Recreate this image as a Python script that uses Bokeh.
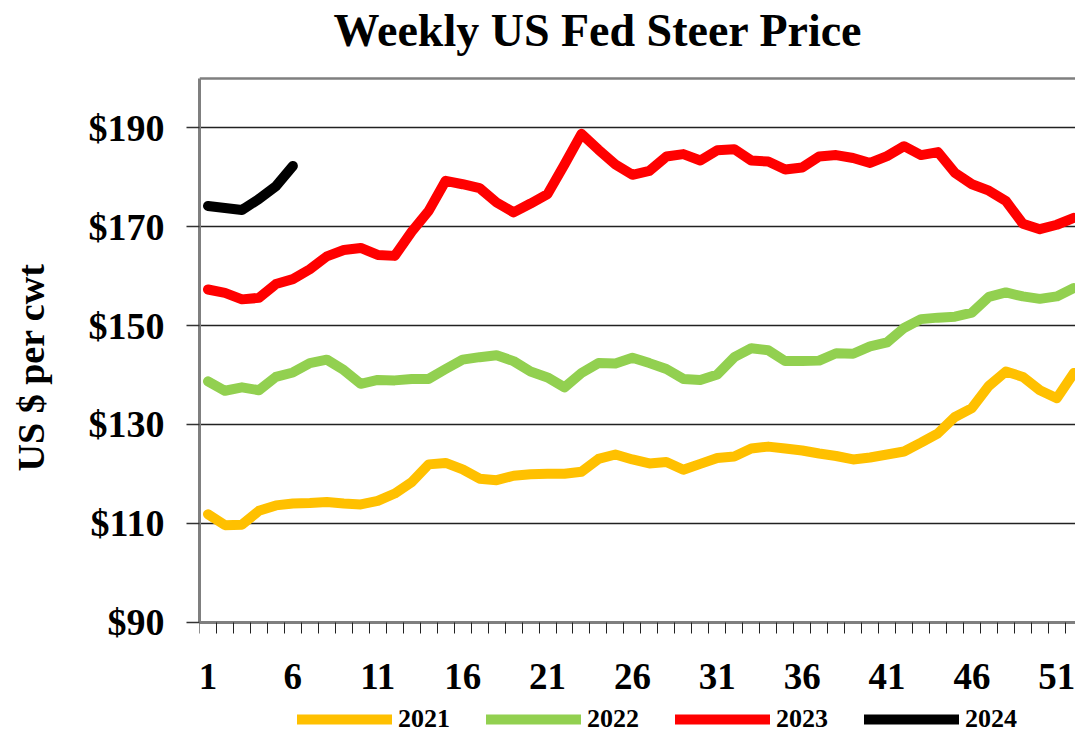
from bokeh.plotting import figure
from bokeh.models import (Range1d, FixedTicker, NumeralTickFormatter, Span, Legend,
                          LegendItem, Label)
from bokeh.embed import file_html
from bokeh.resources import INLINE

weeks = list(range(1, 53))

y2021 = [111.8, 109.6, 109.7, 112.5, 113.6, 114.0, 114.1, 114.3, 114.0, 113.8,
         114.5, 116.0, 118.3, 121.9, 122.2, 120.9, 119.0, 118.7, 119.6, 119.9,
         120.0, 120.0, 120.4, 123.0, 123.9, 122.9, 122.1, 122.4, 120.8, 122.0,
         123.2, 123.5, 125.1, 125.5, 125.1, 124.7, 124.1, 123.6, 122.9, 123.3,
         123.9, 124.5, 126.3, 128.2, 131.5, 133.3, 137.8, 140.7, 139.6, 136.9,
         135.3, 140.4]

y2022 = [138.7, 136.8, 137.5, 136.9, 139.6, 140.5, 142.4, 143.1, 141.0, 138.2,
         139.0, 138.9, 139.2, 139.2, 141.2, 143.1, 143.6, 144.0, 142.8, 140.7,
         139.5, 137.5, 140.4, 142.4, 142.3, 143.5, 142.4, 141.2, 139.2, 139.0,
         140.1, 143.6, 145.4, 145.0, 142.8, 142.8, 142.9, 144.4, 144.3, 145.8,
         146.6, 149.5, 151.3, 151.6, 151.8, 152.6, 155.8, 156.7, 155.9, 155.4,
         155.9, 157.6]

y2023 = [157.3, 156.6, 155.3, 155.6, 158.4, 159.4, 161.4, 164.0, 165.3, 165.7,
         164.3, 164.1, 169.0, 173.2, 179.3, 178.6, 177.8, 174.9, 172.9, 174.7,
         176.6, 182.6, 188.8, 185.6, 182.6, 180.5, 181.3, 184.2, 184.7, 183.4,
         185.5, 185.7, 183.4, 183.2, 181.6, 182.0, 184.2, 184.5, 183.9, 182.9,
         184.3, 186.3, 184.5, 185.1, 180.9, 178.6, 177.3, 175.2, 170.6, 169.5,
         170.4, 171.8]

y2024 = [174.2, 173.8, 173.4, 175.6, 178.2, 182.3]

series_names = ["2021", "2022", "2023", "2024"]
series_values = [y2021, y2022, y2023, y2024]
series_colors = ["#FFC000", "#92D050", "#FF0000", "#000000"]

x_tick_labels = [1, 6, 11, 16, 21, 26, 31, 36, 41, 46, 51]
y_ticks = [90, 110, 130, 150, 170, 190]
title_text = "Weekly US Fed Steer Price"

FONT = "Liberation Serif"

# value axis runs 90..200; the frame is extended above and below so that the
# title and legend (drawn inside the frame) are not clipped
Y_MIN, Y_MAX = 90, 200
H = 734
FRAME_TOP_PX = 78      # pixel row of the 200 line
AXIS_PX = 621.5        # pixel row of the 90 line
ppu = (AXIS_PX - FRAME_TOP_PX) / (Y_MAX - Y_MIN)
y_lo = Y_MIN - (H - AXIS_PX) / ppu
y_hi = Y_MAX + FRAME_TOP_PX / ppu

p = figure(width=1075, height=H, output_backend="svg", toolbar_location=None,
           title=None,
           x_range=Range1d(0.5, 52.1), y_range=Range1d(y_lo, y_hi),
           min_border_left=199, min_border_right=0, min_border_top=0,
           min_border_bottom=0)
p.outline_line_color = None
p.background_fill_color = "white"
p.border_fill_color = "white"

# x axis drawn at the 90 line
xa = p.xaxis[0]
xa.fixed_location = Y_MIN
xa.ticker = FixedTicker(ticks=x_tick_labels,
                        minor_ticks=[w - 0.5 for w in range(1, 54)])
xa.major_tick_line_color = None
xa.major_tick_out = 0
xa.major_tick_in = 0
xa.minor_tick_out = 11
xa.minor_tick_in = 0
xa.minor_tick_line_color = "#222222"
xa.minor_tick_line_width = 1
xa.axis_line_color = "#7f7f7f"
xa.axis_line_width = 3
xa.major_label_text_font = FONT
xa.major_label_text_font_style = "bold"
xa.major_label_text_font_size = "37px"
xa.major_label_text_color = "black"
xa.major_label_standoff = 31

# y axis
ya = p.yaxis[0]
ya.bounds = (Y_MIN, Y_MAX)
ya.ticker = FixedTicker(ticks=y_ticks, minor_ticks=[])
ya.formatter = NumeralTickFormatter(format="$0")
ya.major_tick_out = 13
ya.major_tick_in = 0
ya.major_tick_line_color = "#333333"
ya.major_tick_line_width = 1.5
ya.minor_tick_line_color = None
ya.axis_line_color = "#7f7f7f"
ya.axis_line_width = 3
ya.major_label_text_font = FONT
ya.major_label_text_font_style = "bold"
ya.major_label_text_font_size = "38px"
ya.major_label_text_color = "black"
ya.major_label_standoff = 22
ya.axis_label = "US $ per cwt"
ya.axis_label_text_font = FONT
ya.axis_label_text_font_style = "bold"
ya.axis_label_text_font_size = "38px"
ya.axis_label_text_color = "black"
ya.axis_label_standoff = 34

p.xgrid.grid_line_color = None
p.ygrid.ticker = FixedTicker(ticks=y_ticks[1:])
p.ygrid.grid_line_color = "#222222"
p.ygrid.grid_line_width = 1.5

top_border = Span(location=Y_MAX, dimension="width", line_color="#7f7f7f",
                  line_width=2.5)
p.add_layout(top_border)

title = Label(text=title_text, x=134, y=H - 30, x_units="screen", y_units="screen",
              text_font=FONT, text_font_style="bold", text_font_size="46px",
              text_color="black", text_baseline="alphabetic", text_align="left")
p.add_layout(title)

items = []
for name, vals, col in zip(series_names, series_values, series_colors):
    r = p.line(weeks[:len(vals)], vals, line_color=col, line_width=10,
               line_join="round", line_cap="round")
    items.append(LegendItem(label=name, renderers=[r]))

legend = Legend(items=items, orientation="horizontal", location=(98, 0),
                glyph_width=95, glyph_height=20, label_standoff=6, spacing=36,
                padding=0, margin=0, border_line_color=None,
                background_fill_alpha=0,
                label_text_font=FONT, label_text_font_style="bold",
                label_text_font_size="26px", label_text_color="black")
p.add_layout(legend)

open("out.html", "w").write(file_html(p, INLINE))
